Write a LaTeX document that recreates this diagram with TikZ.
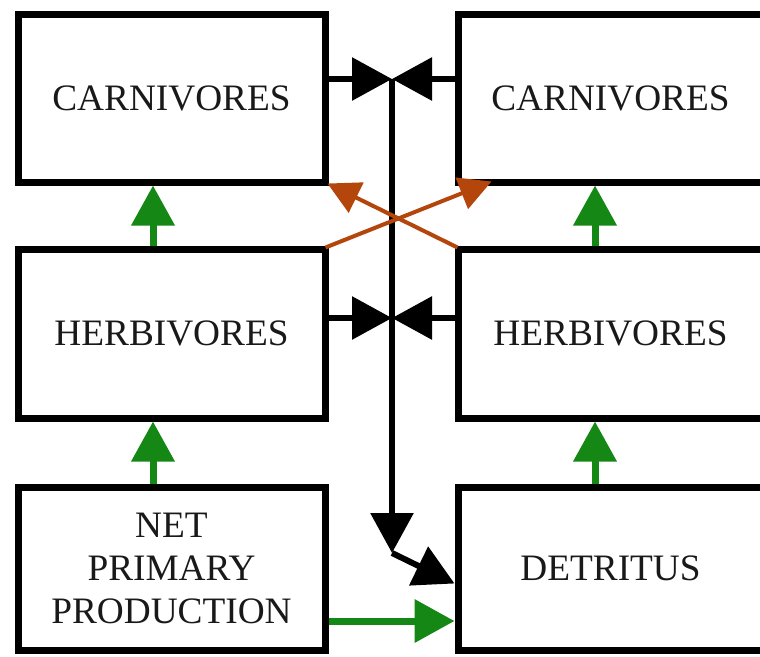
\documentclass[tikz,border=0pt]{standalone}
\usepackage{fontspec}
\setmainfont{Liberation Serif}
\usetikzlibrary{arrows.meta,calc}
\definecolor{grn}{RGB}{20,135,20}
\definecolor{org}{RGB}{180,70,12}
\begin{document}
\begin{tikzpicture}[x=1pt,y=-1pt,
  box/.style={draw=black,line width=7pt,minimum width=307pt,inner sep=0pt,align=center,
    text=black!90,font=\fontsize{37.3}{43}\selectfont},
  blk/.style={draw=black,line width=6pt,-{Triangle[length=40pt,width=42pt]}},
  garr/.style={draw=grn,line width=7pt,-{Triangle[length=40pt,width=42pt]}},
  oarr/.style={draw=org,line width=4pt,-{Triangle[length=32pt,width=33pt]}}]
\useasboundingbox (0,0) rectangle (760,656);
% boxes
\node[box,minimum height=168pt] (lc) at (171.5,98) {CARNIVORES};
\node[box,minimum width=305pt,minimum height=168pt] (rc) at (610.5,98) {CARNIVORES};
\node[box,minimum height=169pt] (lh) at (171.5,333.5) {HERBIVORES};
\node[box,minimum width=305pt,minimum height=169pt] (rh) at (610.5,333.5) {HERBIVORES};
\node[box,minimum height=163pt] (npp) at (171.5,568.5) {NET\\PRIMARY\\PRODUCTION};
\node[box,minimum width=305pt,minimum height=163pt] (det) at (610.5,568.5) {DETRITUS};
% black junction arrows
\coordinate (jt) at (392,79);
\coordinate (jm) at (392,318);
\coordinate (jb) at (392,553);
\draw[blk] (jt) -- (jb);
\draw[blk] (jt -| lc.east) -- (jt);
\draw[blk] (jt -| rc.west) -- (jt);
\draw[blk] (jm -| lh.east) -- (jm);
\draw[blk] (jm -| rh.west) -- (jm);
\draw[blk] (jb) -- ($(det.west)+(0,15)$);
% green arrows
\coordinate (gl) at (153,0);
\coordinate (gr) at (595,0);
\coordinate (gy) at (0,621);
\draw[garr] (lh.north -| gl) -- (lc.south -| gl);
\draw[garr] (rh.north -| gr) -- (rc.south -| gr);
\draw[garr] (npp.north -| gl) -- (lh.south -| gl);
\draw[garr] (det.north -| gr) -- (rh.south -| gr);
\draw[garr] (gy -| npp.east) -- (gy -| det.west);
% orange crossing arrows
\draw[oarr] ($(lh.north east)+(-3,2)$) -- ($(rc.south west)+(37,-4)$);
\draw[oarr] ($(rh.north west)+(3,2)$) -- ($(lc.south east)+(-1,-2)$);
\end{tikzpicture}
\end{document}
